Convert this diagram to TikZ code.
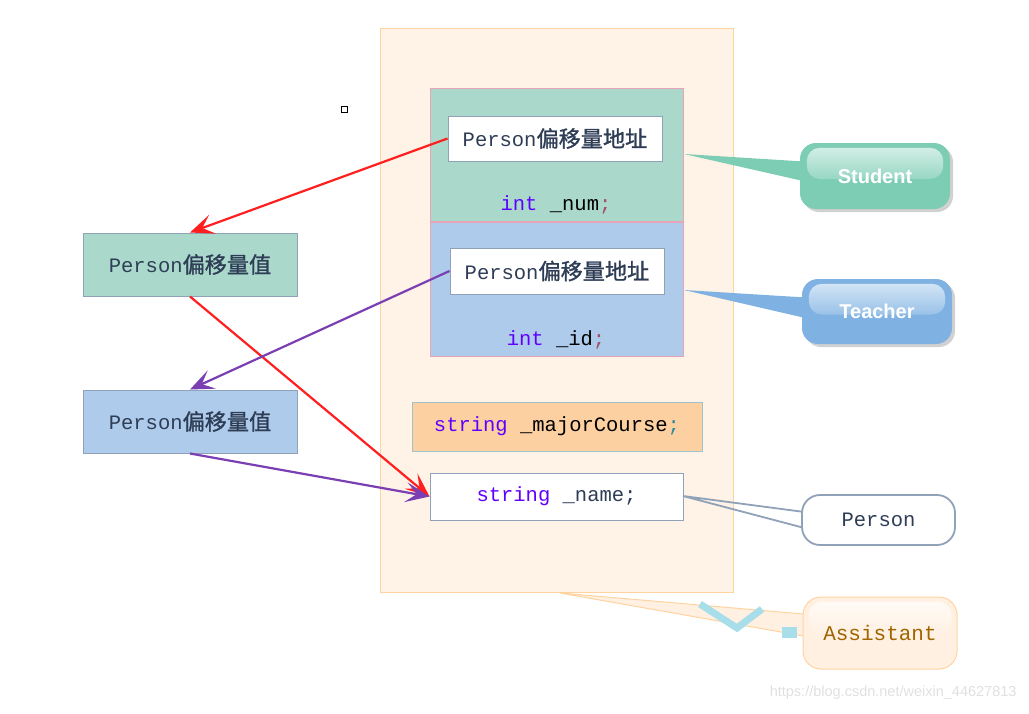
\documentclass[tikz,border=0pt]{standalone}
\usepackage{fontspec}
\setmainfont{Liberation Sans}
\newfontfamily\mono{Liberation Mono}
\newfontfamily\cjk[Scale=1.08,FakeBold=1.2]{Noto Sans CJK SC}
\newfontfamily\sans{Liberation Sans}
\usetikzlibrary{arrows.meta,calc}
\definecolor{outerfill}{HTML}{FFF2E6}
\definecolor{outerline}{HTML}{FFD3A0}
\definecolor{greenfill}{HTML}{AAD9CC}
\definecolor{bluefill}{HTML}{AECBEB}
\definecolor{pinkline}{HTML}{E8A3B6}
\definecolor{grayline}{HTML}{8FA2B8}
\definecolor{majorfill}{HTML}{FDD0A2}
\definecolor{majorline}{HTML}{9CC4CA}
\definecolor{stucol}{HTML}{7DCDB4}
\definecolor{teacol}{HTML}{7FB2E2}
\definecolor{kw}{HTML}{6000FF}
\definecolor{txt}{HTML}{2E3D55}
\definecolor{arrred}{HTML}{FF1F1F}
\definecolor{arrpur}{HTML}{7A3FB2}
\definecolor{asstxt}{HTML}{A06400}
\definecolor{assfill}{HTML}{FFF0E2}
\definecolor{semired}{HTML}{A05068}
\definecolor{semiteal}{HTML}{2E8A9A}
\definecolor{wmcyan}{HTML}{A8DDEA}
\tikzset{
  box/.style={rectangle, inner sep=0pt, line width=1pt},
  txtfont/.style={font=\fontsize{20.5}{24}\selectfont, text=txt},
  arr/.style={line width=2.2pt, -{Stealth[length=24pt,width=20pt,inset=11pt]}},
  bubble/.style={rectangle, rounded corners=16pt, inner sep=0pt},
}
\begin{document}
\begin{tikzpicture}[x=1pt,y=-1pt]
\useasboundingbox (0,0) rectangle (1029,713);
% outer area
\node[box, draw=outerline, fill=outerfill, minimum width=353pt, minimum height=564pt] (outer) at (556.5,310) {};
% student part
\node[box, draw=pinkline, fill=greenfill, minimum width=253pt, minimum height=133pt] (stud) at (556.5,154.5) {};
\node[box, draw=pinkline, fill=bluefill, minimum width=253pt, minimum height=134pt] (teach) at (556.5,289) {};
\node[box, draw=grayline, fill=white, minimum width=214pt, minimum height=45pt, txtfont] (addr1) at (555,138.5) {{\mono Person}{\cjk 偏移量地址}};
\node[box, draw=grayline, fill=white, minimum width=214pt, minimum height=46pt, txtfont] (addr2) at (557,271) {{\mono Person}{\cjk 偏移量地址}};
\node[inner sep=0pt, txtfont] (num) at (556,205) {\mono\textcolor{kw}{int} \textcolor{black}{\_num}\textcolor{semired}{;}};
\node[inner sep=0pt, txtfont] (id) at (556,340) {\mono\textcolor{kw}{int} \textcolor{black}{\_id}\textcolor{semired}{;}};
\node[box, draw=majorline, fill=majorfill, minimum width=290pt, minimum height=49pt, txtfont] (major) at (557,426.5) {\mono\textcolor{kw}{string} \textcolor{black}{\_majorCourse}\textcolor{semiteal}{;}};
\node[box, draw=grayline, fill=white, minimum width=253pt, minimum height=47pt, txtfont] (name) at (556.5,496.5) {\mono\textcolor{kw}{string} \_name;};
% left boxes
\node[box, draw=grayline, fill=greenfill, minimum width=214pt, minimum height=63pt, txtfont] (val1) at (190,264.5) {{\mono Person}{\cjk 偏移量值}};
\node[box, draw=grayline, fill=bluefill, minimum width=214pt, minimum height=63pt, txtfont] (val2) at (190,421.5) {{\mono Person}{\cjk 偏移量值}};
% small square
\node[box, draw=black, line width=0.8pt, minimum width=6pt, minimum height=6pt] (sq) at (344,109) {};
% arrows
\draw[arr, arrred] (addr1.west) -- (val1.north);
\draw[arr, arrred] (val1.south) -- (name.west);
\draw[arr, arrpur] (addr2.west) -- (val2.north);
\draw[arr, arrpur] (val2.south) -- (name.west);
% callout pointer tips
\coordinate (tipS) at (684,154);
\coordinate (tipT) at (684,290);
\coordinate (tipP) at (683,496);
\coordinate (tipA) at (560,593);
% Student callout
\fill[stucol] (tipS) -- (812,162) -- (812,183) -- cycle;
\fill[black!18, rounded corners=16pt] (803,146) rectangle (953,212);
\node[bubble, fill=stucol, minimum width=150pt, minimum height=66pt] (stu) at (875,176) {};
\shade[top color=stucol!35!white, bottom color=stucol!80!white, rounded corners=13pt] ($(stu.north west)+(7,5)$) rectangle ($(stu.east)+(-7,3)$);
\node[font=\sans\bfseries\fontsize{20}{24}\selectfont, text=white] at (stu.center) {Student};
% Teacher callout
\fill[teacol] (tipT) -- (814,298) -- (814,320) -- cycle;
\fill[black!18, rounded corners=16pt] (805,282) rectangle (955,347);
\node[bubble, fill=teacol, minimum width=150pt, minimum height=65pt] (tea) at (877,311.5) {};
\shade[top color=teacol!35!white, bottom color=teacol!80!white, rounded corners=13pt] ($(tea.north west)+(7,5)$) rectangle ($(tea.east)+(-7,3)$);
\node[font=\sans\bfseries\fontsize{20}{24}\selectfont, text=white] at (tea.center) {Teacher};
% Person callout
\draw[grayline, line width=1.8pt] (812,513) -- (tipP) -- (812,530);
\node[bubble, draw=grayline, line width=1.8pt, fill=white, rounded corners=18pt, minimum width=153pt, minimum height=50pt, txtfont] (per) at (878.5,520) {\mono Person};
% Assistant callout
\filldraw[fill=assfill, draw=outerline, line width=1pt] (tipA) -- (815,615) -- (815,638) -- cycle;
\node[bubble, draw=outerline, line width=1pt, fill=assfill, rounded corners=18pt, minimum width=154pt, minimum height=72pt] (asst) at (880,633) {};
\shade[top color=white!70!assfill, bottom color=assfill, rounded corners=14pt] ($(asst.north west)+(6,5)$) rectangle ($(asst.east)+(-6,2)$);
\node[font=\mono\fontsize{21}{24}\selectfont, text=asstxt] at (asst.center) {Assistant};
% watermark fragments
\draw[wmcyan, line width=7pt] (700,604) -- (737,628) -- (762,609);
\fill[wmcyan] (782,627) rectangle (797,638);
% watermark text
\node[anchor=east, font=\sans\fontsize{14.5}{16}\selectfont, text=black!12] (wm) at (1020,693) {https://blog.csdn.net/weixin\_44627813};
\end{tikzpicture}
\end{document}
